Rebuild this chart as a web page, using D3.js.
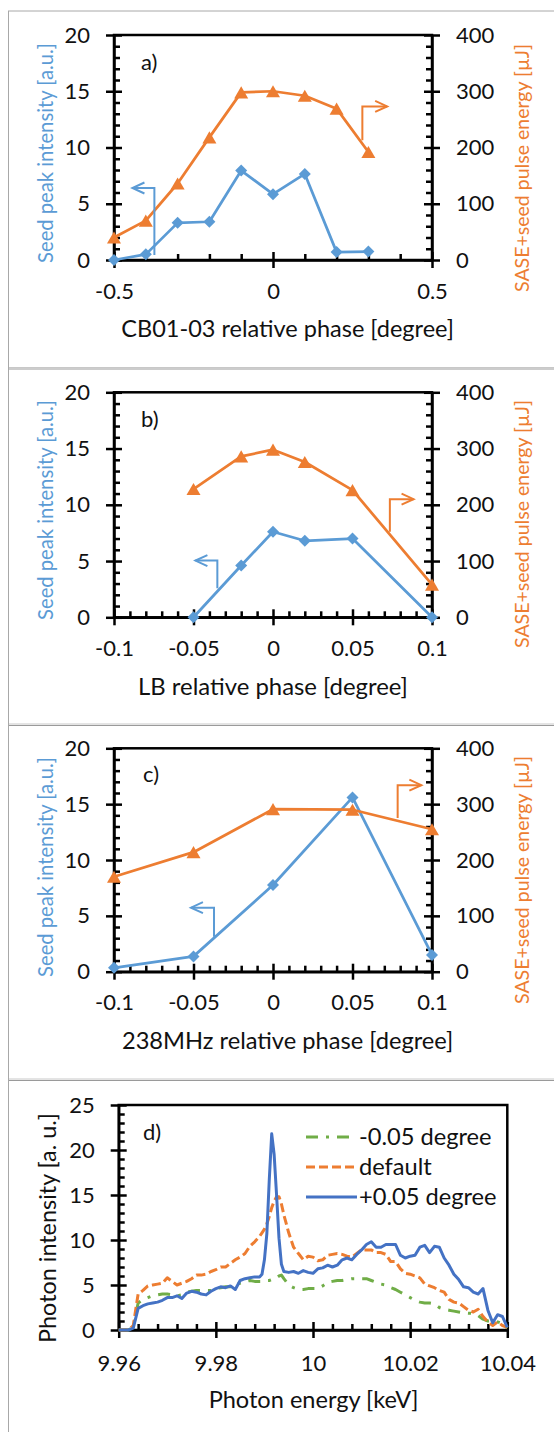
<!DOCTYPE html>
<html>
<head>
<meta charset="utf-8">
<script src="https://cdn.jsdelivr.net/npm/d3@7"></script>
<style>
  body { margin: 0; background: #fff; }
  text { font-family: Lato, "Noto Sans", sans-serif; }
</style>
</head>
<body>
<svg id="chart"></svg>
<script>
// ---- data ----
const phaseA = [-0.5, -0.4, -0.3, -0.2, -0.1, 0, 0.1, 0.2, 0.3];
const seedA = [0, 0.5, 3.3, 3.4, 7.95, 5.85, 7.65, 0.7, 0.75];
const energyA = [40, 70, 136, 218, 298, 300, 292, 269, 192];

const phaseB = [-0.05, -0.02, 0, 0.02, 0.05, 0.1];
const seedB = [0, 4.6, 7.6, 6.8, 7.0, 0];
const energyB = [228, 286, 298, 276, 226, 58];

const phaseC = [-0.1, -0.05, 0, 0.05, 0.1];
const seedC = [0.35, 1.37, 7.76, 15.6, 1.5];
const energyC = [170, 214, 291, 290, 255];

// annotation arrows: [x, y] in data units (seed -> left axis, energy -> right axis)
const arrowSeedA = [[-0.373, 0.45], [-0.373, 6.4], [-0.442, 6.4]];
const arrowEnergyA = [[0.281, 213], [0.281, 273], [0.359, 273]];
const arrowSeedB = [[-0.035, 2.58], [-0.035, 5.04], [-0.0488, 5.04]];
const arrowEnergyB = [[0.0735, 152], [0.0735, 210], [0.0884, 210]];
const arrowSeedC = [[-0.0371, 3.13], [-0.0371, 5.73], [-0.0516, 5.73]];
const arrowEnergyC = [[0.0784, 275], [0.0784, 334], [0.0933, 334]];

const phaseTicksA = [-0.5, 0, 0.5];
const phaseTicksBC = [-0.1, -0.05, 0, 0.05, 0.1];
const seedTicks = [0, 5, 10, 15, 20];
const energyTicks = [0, 100, 200, 300, 400];

// spectrum (panel d)
const photonEnergy = [
  9.960, 9.961, 9.962, 9.963, 9.964, 9.965, 9.966, 9.967, 9.968, 9.969,
  9.970, 9.971, 9.972, 9.973, 9.974, 9.975, 9.976, 9.977, 9.978, 9.979,
  9.980, 9.981, 9.982, 9.983, 9.984, 9.985, 9.986, 9.987, 9.988, 9.989,
  9.9895, 9.990, 9.9905, 9.991, 9.9915, 9.992, 9.9925, 9.993, 9.9935, 9.994,
  9.995, 9.996, 9.997, 9.998, 9.999, 10.000, 10.001, 10.002, 10.003, 10.004,
  10.005, 10.006, 10.007, 10.008, 10.009, 10.010, 10.011, 10.012, 10.013, 10.014,
  10.015, 10.016, 10.017, 10.018, 10.019, 10.020, 10.021, 10.022, 10.023, 10.024,
  10.025, 10.026, 10.027, 10.028, 10.029, 10.030, 10.031, 10.032, 10.033, 10.034,
  10.035, 10.036, 10.037, 10.038, 10.039, 10.040
];
const minus005 = [
  0, 0, 0, 0.3, 3.0, 3.4, 3.6, 3.8, 3.9, 4.0,
  4.0, 3.9, 3.8, 3.9, 4.2, 4.3, 4.4, 4.4, 4.4, 4.4,
  4.6, 4.7, 4.8, 4.8, 5.1, 5.2, 5.4, 5.5, 5.4, 5.4,
  5.4, 5.4, 5.5, 5.5, 5.6, 5.6, 5.8, 6.0, 6.1, 5.7,
  5.0, 4.7, 4.5, 4.5, 4.6, 4.6, 4.6, 4.9, 5.3, 5.4,
  5.5, 5.5, 5.6, 5.7, 5.7, 5.7, 5.7, 5.5, 5.3, 5.1,
  5.0, 4.7, 4.5, 4.2, 3.9, 3.6, 3.3, 3.1, 3.0, 3.0,
  2.9, 2.5, 2.3, 2.2, 2.1, 2.0, 1.9, 1.85, 1.85, 1.6,
  1.2, 1.0, 1.0, 0.9, 0.7, 0.2
];
const defaultPhase = [
  0, 0, 0, 0.5, 4.0, 4.4, 4.9, 5.0, 5.1, 5.2,
  5.8, 5.4, 5.0, 5.2, 5.4, 5.7, 6.1, 6.1, 6.2, 6.5,
  6.7, 7.0, 7.0, 7.4, 7.8, 8.1, 8.5, 9.3, 9.8, 10.4,
  10.8, 11.2, 11.8, 12.6, 13.6, 14.3, 14.8, 14.8, 14.0, 12.8,
  10.8, 9.2, 8.5, 7.8, 8.2, 8.1, 7.7, 7.8, 8.3, 8.4,
  8.5, 8.4, 8.2, 8.1, 8.5, 8.9, 8.9, 8.9, 8.6, 8.6,
  8.4, 7.6, 7.6, 6.8, 6.3, 6.2, 6.0, 5.8, 5.1, 4.9,
  4.7, 4.4, 4.2, 3.4, 3.1, 3.0, 2.6, 2.2, 2.0, 2.3,
  1.5, 0.9, 0.5, 0.9, 0.5, 0.3
];
const plus005 = [
  0, 0, 0, 0.2, 2.4, 2.7, 2.9, 3.0, 3.1, 3.3,
  3.6, 3.6, 3.8, 3.5, 4.1, 4.3, 4.2, 4.0, 3.9, 4.3,
  4.6, 4.8, 4.7, 4.9, 4.5, 5.5, 5.7, 5.8, 5.9, 5.9,
  6.2, 7.8, 10.7, 16.7, 21.8, 19.5, 15.0, 10.2, 7.3, 6.5,
  6.4, 6.5, 6.3, 6.6, 6.4, 6.3, 6.8, 6.9, 7.2, 7.0,
  7.2, 7.8, 8.0, 7.8, 8.4, 8.9, 9.5, 9.8, 9.2, 9.2,
  9.5, 9.5, 9.5, 8.3, 8.0, 8.2, 8.3, 9.2, 9.4, 8.6,
  9.3, 9.2, 8.0, 7.2, 6.2, 5.6, 4.8, 4.7, 4.2, 4.0,
  4.6, 2.2, 0.8, 1.7, 1.5, 0.3
];
const photonTicks = [0, 5, 10, 15, 20, 25];
const keVTicks = [9.96, 9.98, 10, 10.02, 10.04];
const seriesNames = ["-0.05 degree", "default", "+0.05 degree"];

// ---- drawing ----
const W = 554, H = 1432;
const BLUE = "#5b9bd5", ORANGE = "#ed7d31";
const TEXT = "#111";

const svg = d3.select("#chart").attr("width", W).attr("height", H);
svg.append("rect").attr("width", W).attr("height", H).attr("fill", "#fff");

// panel frames
[11, 367.5, 724, 1079].forEach((y, i) => {
  svg.append("line").attr("x1", 8).attr("x2", W).attr("y1", y).attr("y2", y)
    .attr("stroke", i ? "#c8c8c8" : "#a8a8a8").attr("stroke-width", 1);
  if (i) svg.append("line").attr("x1", 8).attr("x2", W).attr("y1", y + 1.5).attr("y2", y + 1.5)
    .attr("stroke", "#9a9a9a").attr("stroke-width", 1.2);
});
svg.append("line").attr("x1", 8.5).attr("x2", 8.5).attr("y1", 11).attr("y2", H)
  .attr("stroke", "#a8a8a8");

const fmt = (d) => String(d);

function minorValues(domain, step, majors) {
  const n = Math.round((domain[1] - domain[0]) / step);
  return d3.range(n + 1).map((i) => domain[0] + i * step)
    .filter((v) => !majors.some((m) => Math.abs(m - v) < step / 10));
}

function styleAxis(g) {
  g.attr("font-family", null).attr("font-size", null);
  g.select(".domain").attr("stroke", "#000").attr("stroke-width", 2.5);
  g.selectAll(".tick line").attr("stroke", "#000").attr("stroke-width", 2.5);
  g.selectAll(".tick text").attr("fill", TEXT).style("font-size", "22px");
}

// orient: "left" | "right" | "bottom"; pos = x for vertical axes, y for bottom
function axis(g, orient, scale, pos, majors, minorStep, pad) {
  const make = orient === "left" ? d3.axisLeft : orient === "right" ? d3.axisRight : d3.axisBottom;
  const tr = orient === "bottom" ? `translate(0,${pos})` : `translate(${pos},0)`;

  const minor = g.append("g").attr("transform", tr)
    .call(make(scale).tickValues(minorValues(scale.domain(), minorStep, majors))
      .tickSize(-6).tickSizeOuter(0).tickFormat(""));
  minor.select(".domain").remove();
  styleAxis(minor);

  const major = g.append("g").attr("transform", tr)
    .call(make(scale).tickValues(majors).tickSize(8).tickSizeOuter(0)
      .tickPadding(pad).tickFormat(fmt));
  if (orient === "bottom") major.selectAll(".tick line").attr("y1", -8);
  else if (orient === "left") major.selectAll(".tick line").attr("x1", 8);
  else major.selectAll(".tick line").attr("x1", -8);
  styleAxis(major);
}

function fitText(sel, width) {
  const len = sel.node().getComputedTextLength();
  const fs = parseFloat(sel.style("font-size"));
  sel.style("font-size", (fs * width / len) + "px");
}

function vTitle(g, text, x, cy, width, color, size) {
  const t = g.append("text")
    .attr("transform", `translate(${x},${cy}) rotate(-90)`)
    .attr("text-anchor", "middle").attr("fill", color)
    .style("font-size", size + "px").text(text);
  fitText(t, width);
}

function hTitle(g, text, cx, cy, width) {
  const t = g.append("text").attr("x", cx).attr("y", cy).attr("dy", "0.35em")
    .attr("text-anchor", "middle").attr("fill", TEXT)
    .style("font-size", "23px").text(text);
  fitText(t, width);
}

function arrow(g, pts, x, y, color, dir) {
  const p = pts.map(([a, b]) => [x(a), y(b)]);
  g.append("path").attr("d", d3.line()(p)).attr("fill", "none")
    .attr("stroke", color).attr("stroke-width", 2);
  const [tx, ty] = p[p.length - 1];
  g.append("path")
    .attr("d", d3.line()([[tx - dir * 12, ty - 5.5], [tx, ty], [tx - dir * 12, ty + 5.5]]))
    .attr("fill", "none").attr("stroke", color).attr("stroke-width", 2);
}

const panels = [
  { label: "a)", labelPos: [141, 70], phase: phaseA, seed: seedA, energy: energyA,
    xDomain: [-0.5, 0.5], xTicks: phaseTicksA, xMinor: 0.1,
    xTitle: "CB01-03 relative phase [degree]", xTitleX: 287.6, xTitleW: 333,
    top: 35, bottom: 260, leftCy: 153, rightCy: 168,
    arrowSeed: arrowSeedA, arrowEnergy: arrowEnergyA },
  { label: "b)", labelPos: [141, 427], phase: phaseB, seed: seedB, energy: energyB,
    xDomain: [-0.1, 0.1], xTicks: phaseTicksBC, xMinor: 0.01,
    xTitle: "LB relative phase [degree]", xTitleX: 273, xTitleW: 270,
    top: 392.3, bottom: 617.3, leftCy: 510, rightCy: 524,
    arrowSeed: arrowSeedB, arrowEnergy: arrowEnergyB },
  { label: "c)", labelPos: [143, 782], phase: phaseC, seed: seedC, energy: energyC,
    xDomain: [-0.1, 0.1], xTicks: phaseTicksBC, xMinor: 0.01,
    xTitle: "238MHz relative phase [degree]", xTitleX: 287.6, xTitleW: 331.5,
    top: 748.3, bottom: 971.7, leftCy: 867, rightCy: 880,
    arrowSeed: arrowSeedC, arrowEnergy: arrowEnergyC },
];

const diamond = d3.symbol(d3.symbolSquare, 72);
const triangle = d3.symbol(d3.symbolTriangle, 85);

panels.forEach((p) => {
  const g = svg.append("g");
  const x = d3.scaleLinear().domain(p.xDomain).range([114, 432]);
  const y1 = d3.scaleLinear().domain([0, 20]).range([p.bottom, p.top]);
  const y2 = d3.scaleLinear().domain([0, 400]).range([p.bottom, p.top]);

  g.append("rect").attr("x", 114).attr("y", p.top)
    .attr("width", 318).attr("height", p.bottom - p.top)
    .attr("fill", "none").attr("stroke", "#000").attr("stroke-width", 2.5);

  axis(g, "left", y1, 114, seedTicks, 1, 16);
  axis(g, "right", y2, 432, energyTicks, 20, 16);
  axis(g, "bottom", x, p.bottom, p.xTicks, p.xMinor, 15);

  // seed intensity (left axis)
  const seedPts = p.phase.map((d, i) => [d, p.seed[i]]);
  g.append("path").datum(seedPts)
    .attr("d", d3.line().x((d) => x(d[0])).y((d) => y1(d[1])))
    .attr("fill", "none").attr("stroke", BLUE).attr("stroke-width", 2.75)
    .attr("stroke-linejoin", "round");
  g.selectAll(null).data(seedPts).join("path")
    .attr("transform", (d) => `translate(${x(d[0])},${y1(d[1])}) rotate(45)`)
    .attr("d", diamond).attr("fill", BLUE);

  // pulse energy (right axis)
  const enPts = p.phase.map((d, i) => [d, p.energy[i]]);
  g.append("path").datum(enPts)
    .attr("d", d3.line().x((d) => x(d[0])).y((d) => y2(d[1])))
    .attr("fill", "none").attr("stroke", ORANGE).attr("stroke-width", 2.75)
    .attr("stroke-linejoin", "round");
  g.selectAll(null).data(enPts).join("path")
    .attr("transform", (d) => `translate(${x(d[0])},${y2(d[1]) + 2})`)
    .attr("d", triangle).attr("fill", ORANGE);

  arrow(g, p.arrowSeed, x, y1, BLUE, -1);
  arrow(g, p.arrowEnergy, x, y2, ORANGE, 1);

  g.append("text").attr("x", p.labelPos[0]).attr("y", p.labelPos[1])
    .attr("fill", TEXT).style("font-size", "22px").text(p.label);

  vTitle(g, "Seed peak intensity [a.u.]", 53, p.leftCy, 220, BLUE, 21);
  vTitle(g, "SASE+seed pulse energy [µJ]", 529, p.rightCy, 248, ORANGE, 21);
  hTitle(g, p.xTitle, p.xTitleX, p.bottom + 69, p.xTitleW);
});

// ---- panel d: spectra ----
{
  const g = svg.append("g");
  const x = d3.scaleLinear().domain([9.96, 10.04]).range([118.7, 507.3]);
  const y = d3.scaleLinear().domain([0, 25]).range([1330, 1105]);

  g.append("rect").attr("x", 118.7).attr("y", 1105)
    .attr("width", 388.6).attr("height", 225)
    .attr("fill", "none").attr("stroke", "#000").attr("stroke-width", 2.5);

  axis(g, "left", y, 118.7, photonTicks, 1, 16);
  axis(g, "bottom", x, 1330, keVTicks, 0.004, 17);

  const series = [
    { values: minus005, color: "#70ad47", dash: "12,8,3,8" },
    { values: defaultPhase, color: "#ed7d31", dash: "9,4" },
    { values: plus005, color: "#4472c4", dash: null },
  ];
  const line = d3.line().x((d) => x(d[0])).y((d) => y(d[1]));
  series.forEach((s) => {
    g.append("path").datum(photonEnergy.map((e, i) => [e, s.values[i]]))
      .attr("d", line).attr("fill", "none").attr("stroke", s.color)
      .attr("stroke-width", 3).attr("stroke-linejoin", "round")
      .attr("stroke-dasharray", s.dash);
  });

  // legend
  const legendY = d3.scalePoint().domain(seriesNames).range([1137, 1197]);
  let legendSize = null;
  series.forEach((s, i) => {
    const ly = legendY(seriesNames[i]);
    g.append("line").attr("x1", 306).attr("x2", 357).attr("y1", ly).attr("y2", ly)
      .attr("stroke", s.color).attr("stroke-width", 3).attr("stroke-dasharray", s.dash);
    const t = g.append("text").attr("x", 359).attr("y", ly).attr("dy", "0.35em")
      .attr("fill", TEXT).style("font-size", legendSize || "23px").text(seriesNames[i]);
    if (!legendSize) { fitText(t, 132.7); legendSize = t.style("font-size"); }
  });

  g.append("text").attr("x", 143).attr("y", 1140)
    .attr("fill", TEXT).style("font-size", "22px").text("d)");

  vTitle(g, "Photon intensity [a. u.]", 56, 1228, 230, TEXT, 23);
  hTitle(g, "Photon energy [keV]", 313.6, 1400, 210);
}
</script>
</body>
</html>
